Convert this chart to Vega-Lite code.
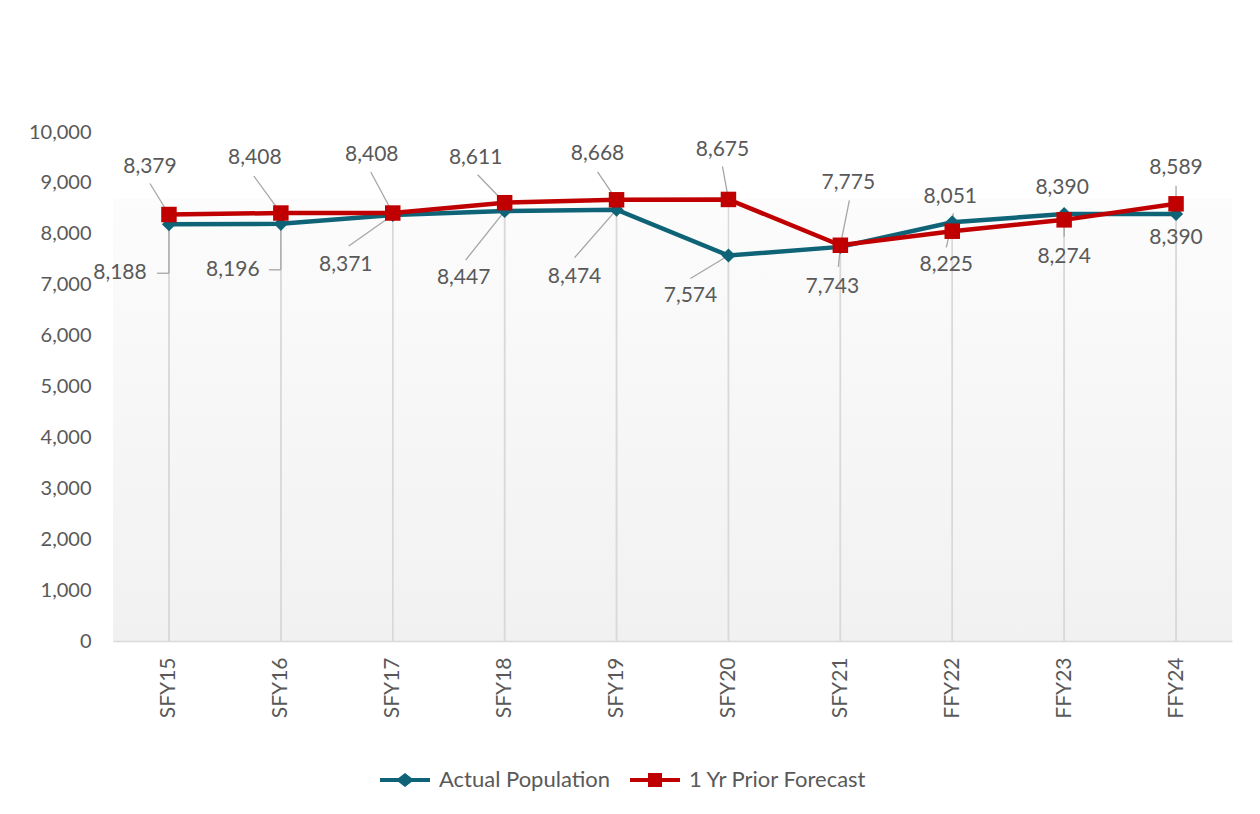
{
  "$schema": "https://vega.github.io/schema/vega-lite/v6.json",
  "width": 1119,
  "height": 509,
  "autosize": "none",
  "padding": {"left": 113, "top": 132, "right": 28, "bottom": 173},
  "background": "white",
  "config": {
    "font": "Lato",
    "view": {
      "stroke": null,
      "fill": {"gradient": "linear", "x1": 0, "y1": 0, "x2": 0, "y2": 1,
        "stops": [{"offset": 0, "color": "#ffffff"}, {"offset": 0.13, "color": "#ffffff"}, {"offset": 0.131, "color": "#fcfcfc"}, {"offset": 1, "color": "#f1f1f1"}]}
    },
    "axis": {"labelFont": "Lato", "labelFontSize": 20, "labelColor": "#595959", "ticks": false, "grid": false, "title": null},
    "text": {"fontSize": 21, "font": "Lato", "color": "#595959", "baseline": "middle"}
  },
  "data": {"values": [
    {"cat": "SFY15", "series": "Actual Population", "value": 8188},
    {"cat": "SFY16", "series": "Actual Population", "value": 8196},
    {"cat": "SFY17", "series": "Actual Population", "value": 8371},
    {"cat": "SFY18", "series": "Actual Population", "value": 8447},
    {"cat": "SFY19", "series": "Actual Population", "value": 8474},
    {"cat": "SFY20", "series": "Actual Population", "value": 7574},
    {"cat": "SFY21", "series": "Actual Population", "value": 7743},
    {"cat": "FFY22", "series": "Actual Population", "value": 8225},
    {"cat": "FFY23", "series": "Actual Population", "value": 8390},
    {"cat": "FFY24", "series": "Actual Population", "value": 8390},
    {"cat": "SFY15", "series": "1 Yr Prior Forecast", "value": 8379},
    {"cat": "SFY16", "series": "1 Yr Prior Forecast", "value": 8408},
    {"cat": "SFY17", "series": "1 Yr Prior Forecast", "value": 8408},
    {"cat": "SFY18", "series": "1 Yr Prior Forecast", "value": 8611},
    {"cat": "SFY19", "series": "1 Yr Prior Forecast", "value": 8668},
    {"cat": "SFY20", "series": "1 Yr Prior Forecast", "value": 8675},
    {"cat": "SFY21", "series": "1 Yr Prior Forecast", "value": 7775},
    {"cat": "FFY22", "series": "1 Yr Prior Forecast", "value": 8051},
    {"cat": "FFY23", "series": "1 Yr Prior Forecast", "value": 8274},
    {"cat": "FFY24", "series": "1 Yr Prior Forecast", "value": 8589}
  ]},
  "encoding": {
    "x": {"field": "cat", "type": "ordinal",
      "sort": ["SFY15", "SFY16", "SFY17", "SFY18", "SFY19", "SFY20", "SFY21", "FFY22", "FFY23", "FFY24"],
      "scale": {"type": "point", "padding": 0.5},
      "axis": {"labelAngle": -90, "labelPadding": 16, "labelFontSize": 21, "domainColor": "#d9d9d9", "domainWidth": 1.5}},
    "y": {"field": "value", "type": "quantitative",
      "scale": {"domain": [0, 10000], "nice": false},
      "axis": {"values": [0, 1000, 2000, 3000, 4000, 5000, 6000, 7000, 8000, 9000, 10000], "format": ",.0f", "domain": false, "labelPadding": 22}}
  },
  "layer": [
    {"mark": {"type": "rule", "color": "#d9d9d9", "strokeWidth": 1.5}, "encoding": {"y2": {"datum": 0}}},

    {"transform": [{"filter": "datum.cat=='SFY15' && datum.series=='1 Yr Prior Forecast'"}], "mark": {"type": "rule", "color": "#a6a6a6", "strokeWidth": 1.3, "xOffset": -19, "yOffset": -31, "x2Offset": 0, "y2Offset": 0}, "encoding": {"x2": {"field": "cat"}, "y2": {"field": "value"}}},
    {"transform": [{"filter": "datum.cat=='SFY16' && datum.series=='1 Yr Prior Forecast'"}], "mark": {"type": "rule", "color": "#a6a6a6", "strokeWidth": 1.3, "xOffset": -27, "yOffset": -37, "x2Offset": 0, "y2Offset": 0}, "encoding": {"x2": {"field": "cat"}, "y2": {"field": "value"}}},
    {"transform": [{"filter": "datum.cat=='SFY17' && datum.series=='1 Yr Prior Forecast'"}], "mark": {"type": "rule", "color": "#a6a6a6", "strokeWidth": 1.3, "xOffset": -22, "yOffset": -41, "x2Offset": 0, "y2Offset": 0}, "encoding": {"x2": {"field": "cat"}, "y2": {"field": "value"}}},
    {"transform": [{"filter": "datum.cat=='SFY18' && datum.series=='1 Yr Prior Forecast'"}], "mark": {"type": "rule", "color": "#a6a6a6", "strokeWidth": 1.3, "xOffset": -27, "yOffset": -28, "x2Offset": 0, "y2Offset": 0}, "encoding": {"x2": {"field": "cat"}, "y2": {"field": "value"}}},
    {"transform": [{"filter": "datum.cat=='SFY19' && datum.series=='1 Yr Prior Forecast'"}], "mark": {"type": "rule", "color": "#a6a6a6", "strokeWidth": 1.3, "xOffset": -19, "yOffset": -28, "x2Offset": 0, "y2Offset": 0}, "encoding": {"x2": {"field": "cat"}, "y2": {"field": "value"}}},
    {"transform": [{"filter": "datum.cat=='SFY20' && datum.series=='1 Yr Prior Forecast'"}], "mark": {"type": "rule", "color": "#a6a6a6", "strokeWidth": 1.3, "xOffset": -6, "yOffset": -33, "x2Offset": 0, "y2Offset": 0}, "encoding": {"x2": {"field": "cat"}, "y2": {"field": "value"}}},
    {"transform": [{"filter": "datum.cat=='SFY21' && datum.series=='1 Yr Prior Forecast'"}], "mark": {"type": "rule", "color": "#a6a6a6", "strokeWidth": 1.3, "xOffset": 9, "yOffset": -45, "x2Offset": 0, "y2Offset": 0}, "encoding": {"x2": {"field": "cat"}, "y2": {"field": "value"}}},
    {"transform": [{"filter": "datum.cat=='FFY22' && datum.series=='1 Yr Prior Forecast'"}], "mark": {"type": "rule", "color": "#a6a6a6", "strokeWidth": 1.3, "xOffset": 1, "yOffset": -18, "x2Offset": 0, "y2Offset": 0}, "encoding": {"x2": {"field": "cat"}, "y2": {"field": "value"}}},
    {"transform": [{"filter": "datum.cat=='FFY23' && datum.series=='1 Yr Prior Forecast'"}], "mark": {"type": "rule", "color": "#a6a6a6", "strokeWidth": 1.3, "xOffset": 0, "yOffset": 17, "x2Offset": 0, "y2Offset": 0}, "encoding": {"x2": {"field": "cat"}, "y2": {"field": "value"}}},
    {"transform": [{"filter": "datum.cat=='FFY24' && datum.series=='1 Yr Prior Forecast'"}], "mark": {"type": "rule", "color": "#a6a6a6", "strokeWidth": 1.3, "xOffset": 0, "yOffset": -18, "x2Offset": 0, "y2Offset": 0}, "encoding": {"x2": {"field": "cat"}, "y2": {"field": "value"}}},

    {"transform": [{"filter": "datum.cat=='SFY15' && datum.series=='Actual Population'"}], "mark": {"type": "rule", "color": "#a6a6a6", "strokeWidth": 1.3, "xOffset": -12, "yOffset": 49, "x2Offset": 0, "y2Offset": 49}, "encoding": {"x2": {"field": "cat"}, "y2": {"field": "value"}}},
    {"transform": [{"filter": "datum.cat=='SFY15' && datum.series=='Actual Population'"}], "mark": {"type": "rule", "color": "#a6a6a6", "strokeWidth": 1.3, "xOffset": 0, "yOffset": 49, "x2Offset": 0, "y2Offset": 0}, "encoding": {"x2": {"field": "cat"}, "y2": {"field": "value"}}},
    {"transform": [{"filter": "datum.cat=='SFY16' && datum.series=='Actual Population'"}], "mark": {"type": "rule", "color": "#a6a6a6", "strokeWidth": 1.3, "xOffset": -12, "yOffset": 46, "x2Offset": 0, "y2Offset": 46}, "encoding": {"x2": {"field": "cat"}, "y2": {"field": "value"}}},
    {"transform": [{"filter": "datum.cat=='SFY16' && datum.series=='Actual Population'"}], "mark": {"type": "rule", "color": "#a6a6a6", "strokeWidth": 1.3, "xOffset": 0, "yOffset": 46, "x2Offset": 0, "y2Offset": 0}, "encoding": {"x2": {"field": "cat"}, "y2": {"field": "value"}}},
    {"transform": [{"filter": "datum.cat=='SFY17' && datum.series=='Actual Population'"}], "mark": {"type": "rule", "color": "#a6a6a6", "strokeWidth": 1.3, "xOffset": -44, "yOffset": 31, "x2Offset": 0, "y2Offset": 0}, "encoding": {"x2": {"field": "cat"}, "y2": {"field": "value"}}},
    {"transform": [{"filter": "datum.cat=='SFY18' && datum.series=='Actual Population'"}], "mark": {"type": "rule", "color": "#a6a6a6", "strokeWidth": 1.3, "xOffset": -39, "yOffset": 49, "x2Offset": 0, "y2Offset": 0}, "encoding": {"x2": {"field": "cat"}, "y2": {"field": "value"}}},
    {"transform": [{"filter": "datum.cat=='SFY19' && datum.series=='Actual Population'"}], "mark": {"type": "rule", "color": "#a6a6a6", "strokeWidth": 1.3, "xOffset": -42, "yOffset": 48, "x2Offset": 0, "y2Offset": 0}, "encoding": {"x2": {"field": "cat"}, "y2": {"field": "value"}}},
    {"transform": [{"filter": "datum.cat=='SFY20' && datum.series=='Actual Population'"}], "mark": {"type": "rule", "color": "#a6a6a6", "strokeWidth": 1.3, "xOffset": -38, "yOffset": 23, "x2Offset": 0, "y2Offset": 0}, "encoding": {"x2": {"field": "cat"}, "y2": {"field": "value"}}},
    {"transform": [{"filter": "datum.cat=='SFY21' && datum.series=='Actual Population'"}], "mark": {"type": "rule", "color": "#a6a6a6", "strokeWidth": 1.3, "xOffset": -2, "yOffset": 20, "x2Offset": 0, "y2Offset": 0}, "encoding": {"x2": {"field": "cat"}, "y2": {"field": "value"}}},
    {"transform": [{"filter": "datum.cat=='FFY22' && datum.series=='Actual Population'"}], "mark": {"type": "rule", "color": "#a6a6a6", "strokeWidth": 1.3, "xOffset": -6, "yOffset": 25, "x2Offset": 0, "y2Offset": 0}, "encoding": {"x2": {"field": "cat"}, "y2": {"field": "value"}}},

    {"mark": {"type": "line", "strokeWidth": 4.5},
     "encoding": {"color": {"field": "series", "type": "nominal",
       "scale": {"domain": ["Actual Population", "1 Yr Prior Forecast"], "range": ["#0e6377", "#c00000"]},
       "legend": {"title": null, "orient": "none", "legendX": 267, "legendY": 623, "direction": "horizontal",
         "symbolSize": 2500, "labelFontSize": 22, "labelFont": "Lato", "labelColor": "#595959", "labelLimit": 400,
         "labelOffset": 9, "columnPadding": 20,
         "encode": {"symbols": {"update": {
           "shape": {"signal": "datum.value === 'Actual Population' ? 'M-1,-0.08H-0.26L0,-0.28L0.26,-0.08H1V0.08H0.26L0,0.28L-0.26,0.08H-1Z' : 'M-1,-0.08H-0.28V-0.28H0.28V-0.08H1V0.08H0.28V0.28H-0.28V0.08H-1Z'"},
           "fill": {"signal": "datum.value === 'Actual Population' ? '#0e6377' : '#c00000'"},
           "fillOpacity": {"value": 1},
           "strokeWidth": {"value": 0}}}}}}}},
    {"transform": [{"filter": "datum.series=='Actual Population'"}],
     "mark": {"type": "point", "shape": "diamond", "filled": true, "opacity": 1, "color": "#0e6377", "size": 200}},
    {"transform": [{"filter": "datum.series=='1 Yr Prior Forecast'"}],
     "mark": {"type": "point", "shape": "square", "filled": true, "opacity": 1, "color": "#c00000", "size": 240}},

    {"transform": [{"filter": "datum.cat=='SFY15' && datum.series=='1 Yr Prior Forecast'"}], "mark": {"type": "text", "dx": -19, "dy": -48}, "encoding": {"text": {"field": "value", "format": ",.0f"}}},
    {"transform": [{"filter": "datum.cat=='SFY16' && datum.series=='1 Yr Prior Forecast'"}], "mark": {"type": "text", "dx": -26, "dy": -55}, "encoding": {"text": {"field": "value", "format": ",.0f"}}},
    {"transform": [{"filter": "datum.cat=='SFY17' && datum.series=='1 Yr Prior Forecast'"}], "mark": {"type": "text", "dx": -21, "dy": -58}, "encoding": {"text": {"field": "value", "format": ",.0f"}}},
    {"transform": [{"filter": "datum.cat=='SFY18' && datum.series=='1 Yr Prior Forecast'"}], "mark": {"type": "text", "dx": -29, "dy": -45}, "encoding": {"text": {"field": "value", "format": ",.0f"}}},
    {"transform": [{"filter": "datum.cat=='SFY19' && datum.series=='1 Yr Prior Forecast'"}], "mark": {"type": "text", "dx": -19, "dy": -46}, "encoding": {"text": {"field": "value", "format": ",.0f"}}},
    {"transform": [{"filter": "datum.cat=='SFY20' && datum.series=='1 Yr Prior Forecast'"}], "mark": {"type": "text", "dx": -6, "dy": -49}, "encoding": {"text": {"field": "value", "format": ",.0f"}}},
    {"transform": [{"filter": "datum.cat=='SFY21' && datum.series=='1 Yr Prior Forecast'"}], "mark": {"type": "text", "dx": 8, "dy": -62}, "encoding": {"text": {"field": "value", "format": ",.0f"}}},
    {"transform": [{"filter": "datum.cat=='FFY22' && datum.series=='1 Yr Prior Forecast'"}], "mark": {"type": "text", "dx": -2, "dy": -34}, "encoding": {"text": {"field": "value", "format": ",.0f"}}},
    {"transform": [{"filter": "datum.cat=='FFY23' && datum.series=='1 Yr Prior Forecast'"}], "mark": {"type": "text", "dx": 0, "dy": 37}, "encoding": {"text": {"field": "value", "format": ",.0f"}}},
    {"transform": [{"filter": "datum.cat=='FFY24' && datum.series=='1 Yr Prior Forecast'"}], "mark": {"type": "text", "dx": 0, "dy": -36}, "encoding": {"text": {"field": "value", "format": ",.0f"}}},

    {"transform": [{"filter": "datum.cat=='SFY15' && datum.series=='Actual Population'"}], "mark": {"type": "text", "dx": -49, "dy": 49}, "encoding": {"text": {"field": "value", "format": ",.0f"}}},
    {"transform": [{"filter": "datum.cat=='SFY16' && datum.series=='Actual Population'"}], "mark": {"type": "text", "dx": -48, "dy": 46}, "encoding": {"text": {"field": "value", "format": ",.0f"}}},
    {"transform": [{"filter": "datum.cat=='SFY17' && datum.series=='Actual Population'"}], "mark": {"type": "text", "dx": -47, "dy": 50}, "encoding": {"text": {"field": "value", "format": ",.0f"}}},
    {"transform": [{"filter": "datum.cat=='SFY18' && datum.series=='Actual Population'"}], "mark": {"type": "text", "dx": -41, "dy": 67}, "encoding": {"text": {"field": "value", "format": ",.0f"}}},
    {"transform": [{"filter": "datum.cat=='SFY19' && datum.series=='Actual Population'"}], "mark": {"type": "text", "dx": -42, "dy": 67}, "encoding": {"text": {"field": "value", "format": ",.0f"}}},
    {"transform": [{"filter": "datum.cat=='SFY20' && datum.series=='Actual Population'"}], "mark": {"type": "text", "dx": -38, "dy": 41}, "encoding": {"text": {"field": "value", "format": ",.0f"}}},
    {"transform": [{"filter": "datum.cat=='SFY21' && datum.series=='Actual Population'"}], "mark": {"type": "text", "dx": -8, "dy": 40}, "encoding": {"text": {"field": "value", "format": ",.0f"}}},
    {"transform": [{"filter": "datum.cat=='FFY22' && datum.series=='Actual Population'"}], "mark": {"type": "text", "dx": -6, "dy": 43}, "encoding": {"text": {"field": "value", "format": ",.0f"}}},
    {"transform": [{"filter": "datum.cat=='FFY23' && datum.series=='Actual Population'"}], "mark": {"type": "text", "dx": -2, "dy": -26}, "encoding": {"text": {"field": "value", "format": ",.0f"}}},
    {"transform": [{"filter": "datum.cat=='FFY24' && datum.series=='Actual Population'"}], "mark": {"type": "text", "dx": 0, "dy": 24}, "encoding": {"text": {"field": "value", "format": ",.0f"}}}
  ]
}
